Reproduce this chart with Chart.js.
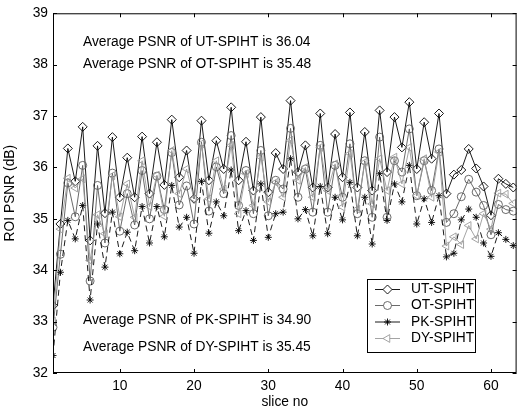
<!DOCTYPE html>
<html>
<head>
<meta charset="utf-8">
<script src="https://cdn.jsdelivr.net/npm/chart.js@4.4.0/dist/chart.umd.min.js"></script>
<style>
  html, body { margin: 0; padding: 0; background: #fff; }
  #wrap { width: 522px; height: 410px; }
</style>
</head>
<body>
<div id="wrap"><canvas id="grafico"></canvas></div>
<script>
// valores (ROI PSNR em dB por fatia)
const SLICES = [1, 2, 3, 4, 5, 6, 7, 8, 9, 10, 11, 12, 13, 14, 15, 16, 17, 18, 19, 20,
  21, 22, 23, 24, 25, 26, 27, 28, 29, 30, 31, 32, 33, 34, 35, 36, 37, 38, 39, 40,
  41, 42, 43, 44, 45, 46, 47, 48, 49, 50, 51, 52, 53, 54, 55, 56, 57, 58, 59, 60,
  61, 62, 63];

const UT = [33.31, 34.90, 36.37, 35.73, 36.79, 34.58, 36.42, 35.11, 36.59, 35.42,
  36.19, 35.42, 36.60, 35.49, 36.49, 35.66, 36.93, 35.81, 36.33, 35.39,
  36.91, 35.75, 36.52, 35.97, 37.17, 35.75, 36.50, 35.55, 36.98, 35.52,
  36.28, 35.97, 37.30, 35.91, 36.43, 35.61, 37.05, 35.61, 36.65, 35.81,
  37.07, 35.61, 36.69, 35.55, 37.11, 35.91, 36.98, 36.39, 37.27, 35.97,
  36.88, 36.17, 37.05, 35.49, 35.86, 35.95, 36.36, 35.98, 35.63, 35.07,
  35.78, 35.68, 35.61];

const OT = [32.89, 34.31, 35.70, 35.04, 36.04, 33.79, 35.65, 34.53, 35.89, 34.76,
  35.49, 34.88, 35.94, 35.00, 35.83, 35.18, 36.29, 35.27, 35.64, 34.90,
  36.49, 35.15, 36.01, 35.49, 36.62, 35.26, 35.94, 35.10, 36.33, 35.06,
  35.75, 35.58, 36.76, 35.42, 35.97, 35.13, 36.43, 35.13, 36.04, 35.42,
  36.46, 35.10, 36.13, 35.03, 36.59, 35.03, 36.13, 35.91, 36.75, 35.45,
  36.13, 35.55, 36.36, 34.93, 35.10, 35.43, 35.77, 35.52, 35.26, 34.69,
  35.28, 35.18, 35.15];

const PK = [32.34, 33.96, 34.97, 34.61, 35.26, 33.42, 34.90, 34.06, 35.13, 34.32,
  34.74, 34.38, 35.24, 34.53, 35.24, 34.65, 35.65, 34.84, 35.03, 34.33,
  35.73, 34.72, 35.33, 35.06, 35.95, 34.77, 35.16, 34.58, 35.68, 34.64,
  35.10, 35.13, 36.17, 35.00, 35.18, 34.67, 35.63, 34.71, 35.42, 34.98,
  35.71, 34.67, 35.42, 34.51, 35.88, 34.97, 35.68, 35.33, 36.04, 34.90,
  35.39, 34.93, 35.45, 34.26, 34.33, 34.98, 35.19, 35.03, 34.53, 34.27,
  34.73, 34.60, 34.48];

const DY = [33.01, 34.80, 35.79, 35.60, 35.78, 34.19, 35.08, 34.71, 35.84, 35.04,
  35.68, 35.03, 36.13, 35.24, 35.85, 35.05, 36.33, 35.49, 35.97, 35.39,
  36.46, 35.39, 36.13, 35.58, 36.43, 35.10, 35.88, 35.26, 36.20, 35.33,
  35.71, 35.42, 36.53, 35.75, 36.00, 35.42, 36.39, 35.55, 36.07, 35.23,
  36.27, 35.19, 36.10, 35.29, 36.17, 35.55, 36.20, 35.68, 36.39, 35.45,
  36.17, 35.42, 36.30, 34.47, 34.65, 34.50, 34.87, 34.61, 35.10, 34.80,
  35.50, 35.48, 35.30];

const X_TICKS = [10, 20, 30, 40, 50, 60];
const Y_TICKS = [32, 33, 34, 35, 36, 37, 38, 39];

const NOTAS = [
  { texto: 'Average PSNR of UT-SPIHT is 36.04', y: 42 },
  { texto: 'Average PSNR of OT-SPIHT is 35.48', y: 64 },
  { texto: 'Average PSNR of PK-SPIHT is 34.90', y: 320 },
  { texto: 'Average PSNR of DY-SPIHT is 35.45', y: 347 },
];

const FONTE = 'Liberation Sans, Arial, Helvetica, sans-serif';
const TAM = 13.8;

const pontos = (serie) => SLICES.map((s, i) => ({ x: s, y: serie[i] }));

/* --- moldura com ticks para dentro (estilo Matlab) --- */
const moldura = {
  id: 'moldura',
  afterDraw(chart) {
    const { ctx, chartArea: a, scales } = chart;
    ctx.save();
    ctx.strokeStyle = '#000';
    ctx.lineWidth = 1;
    ctx.strokeRect(a.left + 0.5, a.top + 0.5, a.right - a.left - 1, a.bottom - a.top - 1);
    ctx.beginPath();
    X_TICKS.forEach(v => {
      const px = Math.round(scales.x.getPixelForValue(v)) + 0.5;
      ctx.moveTo(px, a.bottom); ctx.lineTo(px, a.bottom - 4);
      ctx.moveTo(px, a.top); ctx.lineTo(px, a.top + 4);
    });
    Y_TICKS.forEach(v => {
      const py = Math.round(scales.y.getPixelForValue(v)) + 0.5;
      ctx.moveTo(a.left, py); ctx.lineTo(a.left + 4, py);
      ctx.moveTo(a.right, py); ctx.lineTo(a.right - 4, py);
    });
    ctx.stroke();

    // textos de media
    ctx.fillStyle = '#000';
    ctx.font = TAM + 'px ' + FONTE;
    ctx.textBaseline = 'middle';
    ctx.textAlign = 'left';
    NOTAS.forEach(n => ctx.fillText(n.texto, 83, n.y));

    // legenda
    const lx = 367, ly = 279, lw = 108, lh = 73;
    ctx.fillStyle = '#fff';
    ctx.fillRect(lx, ly, lw, lh);
    ctx.strokeStyle = '#000';
    ctx.strokeRect(lx + 0.5, ly + 0.5, lw, lh);
    const linhas = [289.5, 305.5, 322, 338.5];
    chart.data.datasets.forEach((ds, i) => {
      const y = linhas[i];
      ctx.strokeStyle = ds.borderColor;
      ctx.lineWidth = ds.borderWidth;
      ctx.setLineDash([]);
      ctx.beginPath();
      ctx.moveTo(375, y); ctx.lineTo(400, y);
      ctx.stroke();
      ctx.lineWidth = ds.pointBorderWidth;
      ctx.fillStyle = '#fff';
      Chart.helpers.drawPoint(ctx, {
        pointStyle: ds.pointStyle,
        radius: ds.pointRadius,
        rotation: ds.pointRotation || 0,
        borderWidth: ds.pointBorderWidth,
      }, 387.5, y);
      ctx.fillStyle = '#000';
      ctx.fillText(ds.label, 411, y);
    });
    ctx.restore();
  },
};

function serie(label, dados, cor, estilo, raio, ordem, extra) {
  return Object.assign({
    label,
    data: pontos(dados),
    borderColor: cor,
    borderWidth: 0.9,
    pointStyle: estilo,
    pointRadius: raio,
    pointBorderColor: cor,
    pointBackgroundColor: 'rgba(0,0,0,0)',
    pointBorderWidth: 0.9,
    tension: 0,
    fill: false,
    order: ordem,
  }, extra || {});
}

new Chart(document.getElementById('grafico'), {
  type: 'line',
  data: {
    datasets: [
      serie('UT-SPIHT', UT, '#000000', 'rectRot', 4.5, 4),
      serie('OT-SPIHT', OT, '#5a5a5a', 'circle', 4, 3),
      serie('PK-SPIHT', PK, '#000000', 'star', 3.5, 2, { borderDash: [6, 4] }),
      serie('DY-SPIHT', DY, '#9a9a9a', 'triangle', 4.5, 1, { pointRotation: -90 }),
    ],
  },
  options: {
    responsive: true,
    maintainAspectRatio: false,
    animation: false,
    layout: { padding: { top: 12.5, right: 1, left: 0, bottom: 0 } },
    plugins: { legend: { display: false }, tooltip: { enabled: false } },
    scales: {
      x: {
        type: 'linear',
        min: 1,
        max: 63.45,
        grid: { display: false, drawTicks: false },
        border: { display: false },
        afterBuildTicks: (s) => { s.ticks = X_TICKS.map(v => ({ value: v })); },
        afterFit: (s) => { s.height = 37; },
        ticks: { color: '#000', padding: 5, maxRotation: 0, autoSkip: false, font: { family: FONTE, size: TAM } },
        title: { display: true, text: 'slice no', color: '#000', padding: { top: 0, bottom: 0 }, font: { family: FONTE, size: TAM } },
      },
      y: {
        min: 32,
        max: 39,
        grid: { display: false, drawTicks: false },
        border: { display: false },
        afterBuildTicks: (s) => { s.ticks = Y_TICKS.map(v => ({ value: v })); },
        afterFit: (s) => { s.width = 53; },
        ticks: { color: '#000', padding: 5, autoSkip: false, font: { family: FONTE, size: TAM } },
        title: { display: true, text: 'ROI PSNR (dB)', color: '#000', padding: { top: 2, bottom: 0 }, font: { family: FONTE, size: TAM } },
      },
    },
  },
  plugins: [moldura],
});
</script>
</body>
</html>
